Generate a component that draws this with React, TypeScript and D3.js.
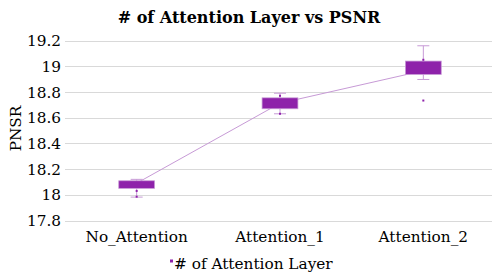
import React from "react";
import * as d3 from "d3";

const categories = ["No_Attention", "Attention_1", "Attention_2"];
const mins = [17.982, 18.63, 18.897];
const q1s = [18.05, 18.669, 18.936];
const q3s = [18.109, 18.754, 19.04];
const maxs = [18.12, 18.79, 19.159];
const means = [18.09, 18.712, 18.965];
const innerPoints = [[18.03, 17.985], [18.77, 18.63], [19.05]];
const outliers = [[], [], [18.733]];
const yTicks = [17.8, 18, 18.2, 18.4, 18.6, 18.8, 19, 19.2];

const W = 498, H = 280;
const FONT = "'DejaVu Serif', serif";
const FS = 15.3;
const FILL = "#8E22AA";
const LIGHT = "#C79AD6";

export default function App() {
  const x = d3.scaleBand<string>().domain(categories).range([65, 495]).padding(0);
  const y = d3.scaleLinear().domain([17.8, 19.2]).range([220.5, 40.5]);
  const bw = x.bandwidth() * 0.25;
  const cx = (c: string) => (x(c) as number) + x.bandwidth() / 2;
  const line = d3.line<number>()
    .x((_, i) => cx(categories[i]))
    .y((d) => y(d));
  const ts = { fontFamily: FONT };

  return (
    <svg width={W} height={H} style={{ position: "absolute", left: 0, top: 0, background: "#fff", fontFamily: FONT }}>
      <text x={249} y={22.5} textAnchor="middle" style={ts} fontWeight="bold" fontSize={16} fill="#000">
        # of Attention Layer vs PSNR
      </text>
      {yTicks.map((t) => (
        <g key={t}>
          <line x1={65} x2={492} y1={Math.round(y(t)) + 0.5} y2={Math.round(y(t)) + 0.5} stroke="#d9d9d9" strokeWidth={1} />
          <text x={61} y={y(t) + 5.6} textAnchor="end" style={ts} fontSize={FS} fill="#000">
            {d3.format("~g")(t)}
          </text>
        </g>
      ))}
      <text transform={`translate(20.5,128.5) rotate(-90)`} textAnchor="middle" style={ts} fontSize={FS} fill="#000">
        PNSR
      </text>
      {categories.map((c) => (
        <text key={c} x={cx(c)} y={242} textAnchor="middle" style={ts} fontSize={FS} fill="#000">
          {c}
        </text>
      ))}
      <path d={line(means) || ""} fill="none" stroke={LIGHT} strokeWidth={1} />
      {categories.map((c, i) => {
        const xc = cx(c);
        return (
          <g key={c}>
            <line x1={xc} x2={xc} y1={y(q3s[i])} y2={y(maxs[i])} stroke={LIGHT} strokeWidth={1} />
            <line x1={xc} x2={xc} y1={y(q1s[i])} y2={y(mins[i])} stroke={LIGHT} strokeWidth={1} />
            <line x1={xc - 6} x2={xc + 6} y1={y(maxs[i])} y2={y(maxs[i])} stroke={LIGHT} strokeWidth={1} />
            <line x1={xc - 6} x2={xc + 6} y1={y(mins[i])} y2={y(mins[i])} stroke={LIGHT} strokeWidth={1} />
            <rect x={xc - bw / 2} y={y(q3s[i])} width={bw} height={y(q1s[i]) - y(q3s[i])} fill={FILL} stroke={LIGHT} strokeWidth={0.75} />
            {innerPoints[i].map((p, k) => (
              <rect key={k} x={xc - 1} y={y(p) - 1} width={2} height={2} fill={FILL} />
            ))}
            {outliers[i].map((p, k) => (
              <rect key={k} x={xc - 1} y={y(p) - 1} width={2} height={2} fill={FILL} />
            ))}
          </g>
        );
      })}
      <rect x={170} y={259.5} width={3} height={3} fill={FILL} />
      <text x={174} y={268.5} style={ts} fontSize={FS} fill="#000">
        # of Attention Layer
      </text>
    </svg>
  );
}
